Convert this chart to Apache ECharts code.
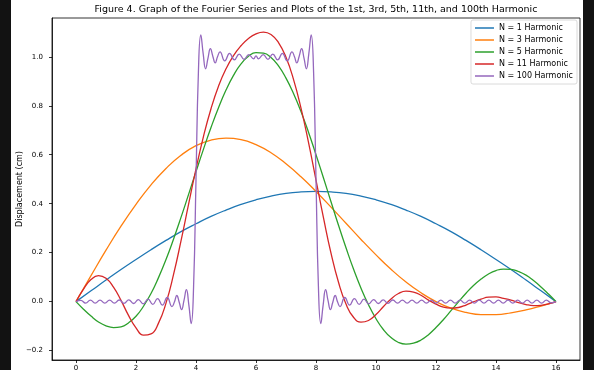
<!DOCTYPE html>
<html><head><meta charset="utf-8">
<script src="https://cdn.jsdelivr.net/npm/echarts@6/dist/echarts.min.js"></script>
<style>
html,body{margin:0;padding:0;background:#121212;width:594px;height:370px;overflow:hidden}
#c{position:absolute;left:11px;top:0;width:572px;height:370px;background:#fff}
</style></head><body><div id="c"></div>
<script>
const titleText = 'Figure 4. Graph of the Fourier Series and Plots of the 1st, 3rd, 5th, 11th, and 100th Harmonic';
const yAxisTitle = 'Displacement (cm)';
const seriesNames = ['N = 1 Harmonic','N = 3 Harmonic','N = 5 Harmonic','N = 11 Harmonic','N = 100 Harmonic'];
const colors = ['#1f77b4','#ff7f0e','#2ca02c','#d62728','#9467bd'];
const xTicks = [0,2,4,6,8,10,12,14,16];
const yTicks = [-0.2,0,0.2,0.4,0.6,0.8,1.0];

const xs = [0,0.5,1,1.5,2,2.5,3,3.5,4,4.5,5,5.5,6,6.5,7,7.5,8,8.5,9,9.5,10,10.5,11,11.5,12,12.5,13,13.5,14,14.5,15,15.5,16];
const n1 = [0,.044,.088,.131,.172,.212,.250,.286,.318,.348,.374,.397,.416,.431,.442,.448,.450,.448,.442,.431,.416,.397,.374,.348,.318,.286,.250,.212,.172,.131,.088,.044,0];
const n3 = [0,.106,.210,.308,.397,.477,.544,.598,.637,.660,.668,.662,.641,.608,.563,.510,.450,.386,.320,.254,.191,.132,.080,.036,0,-.027,-.044,-.053,-.053,-.046,-.034,-.018,0];
const xsFine = [0,0.25,0.5,0.75,1,1.25,1.5,1.75,2,2.25,2.5,2.75,3,3.25,3.5,3.75,4,4.25,4.5,4.75,5,5.25,5.5,5.75,6,6.25,6.5,6.75,7,7.25,7.5,7.75,8,8.25,8.5,8.75,9,9.25,9.5,9.75,10,10.25,10.5,10.75,11,11.25,11.5,11.75,12,12.25,12.5,12.75,13,13.25,13.5,13.75,14,14.25,14.5,14.75,15,15.25,15.5,15.75,16];
const n5 = [0,-.031,-.059,-.083,-.099,-.106,-.103,-.087,-.060,-.019,.033,.098,.172,.255,.344,.437,.531,.623,.711,.792,.864,.924,.971,1.002,1.017,1.015,.997,.963,.913,.850,.776,.692,.600,.505,.408,.312,.220,.133,.055,-.013,-.070,-.115,-.147,-.167,-.174,-.170,-.157,-.135,-.106,-.073,-.037,-.001,.034,.066,.092,.113,.127,.133,.132,.123,.108,.086,.060,.031,0];
const n11 = [0,.051,.090,.106,.095,.059,.005,-.056,-.107,-.137,-.132,-.088,-.006,.110,.248,.396,.542,.675,.788,.880,.951,1.005,1.045,1.075,1.094,1.101,1.091,1.058,.998,.908,.790,.650,.496,.342,.198,.079,-.010,-.064,-.084,-.077,-.053,-.020,.011,.033,.043,.039,.026,.006,-.010,-.023,-.027,-.024,-.014,-.001,.010,.018,.019,.013,.006,-.004,-.012,-.016,-.015,-.009,0];
const n100 = [
 [0,0],[0.16,0.005],[0.32,-0.006],[0.48,0.006],[0.64,-0.006],[0.80,0.006],[0.96,-0.006],[1.12,0.006],[1.28,-0.006],
 [1.44,0.0065],[1.60,-0.007],[1.76,0.0072],[1.92,-0.0078],[2.08,0.0084],[2.24,-0.0092],[2.40,0.0101],[2.56,-0.0113],
 [2.72,0.0126],[2.88,-0.0144],[3.04,0.0168],[3.20,-0.0201],[3.28,-0.0016],[3.36,0.025],[3.44,-0.0025],[3.52,-0.0331],
 [3.60,0.005],[3.68,0.0486],[3.76,-0.012],[3.84,-0.0895],[3.92,0.064],[4.00,0.5],
 [4.08,0.936],[4.16,1.0895],[4.24,1.012],[4.32,0.951],[4.40,0.995],[4.48,1.033],[4.56,1.0025],[4.64,0.975],[4.72,1.0016],
 [4.80,1.0201],[4.96,0.9832],[5.12,1.0144],[5.28,0.9874],[5.44,1.0113],[5.60,0.9899],[5.76,1.0092],[5.92,0.9916],
 [6.00,1.004],[6.08,0.9916],[6.24,1.0092],[6.40,0.9899],[6.56,1.0113],[6.72,0.9874],[6.88,1.0144],[7.04,0.9832],
 [7.20,1.0201],[7.28,1.0016],[7.36,0.975],[7.44,1.0025],[7.52,1.033],[7.60,0.995],[7.68,0.951],[7.76,1.012],
 [7.84,1.0895],[7.92,0.936],[8.00,0.5],
 [8.08,0.064],[8.16,-0.0895],[8.24,-0.012],[8.32,0.0486],[8.40,0.005],[8.48,-0.0331],[8.56,-0.0025],[8.64,0.025],
 [8.72,-0.0016],[8.80,-0.0201],[8.96,0.0168],[9.12,-0.0144],[9.28,0.0126],[9.44,-0.0113],[9.60,0.0101],[9.76,-0.0092],
 [9.92,0.0084],[10.08,-0.0078],[10.24,0.0072],[10.40,-0.0068],[10.56,0.0065],[10.72,-0.006],[10.88,0.006],[11.04,-0.006],
 [11.20,0.006],[11.36,-0.006],[11.52,0.006],[11.68,-0.006],[11.84,0.006],[12.00,-0.006],[12.16,0.006],[12.32,-0.006],
 [12.48,0.006],[12.64,-0.006],[12.80,0.006],[12.96,-0.006],[13.12,0.006],[13.28,-0.006],[13.44,0.006],[13.60,-0.006],
 [13.76,0.006],[13.92,-0.006],[14.08,0.006],[14.24,-0.006],[14.40,0.006],[14.56,-0.006],[14.72,0.006],[14.88,-0.006],
 [15.04,0.006],[15.20,-0.006],[15.36,0.006],[15.52,-0.006],[15.68,0.006],[15.84,-0.005],[16.00,0]
];

const font = 'DejaVu Sans';
const pair = (xv, ys) => xv.map((x,i)=>[x,ys[i]]);
const seriesData = [pair(xs,n1),pair(xs,n3),pair(xsFine,n5),pair(xsFine,n11),n100];

const chart = echarts.init(document.getElementById('c'), null, {renderer:'canvas'});
chart.setOption({
  animation:false,
  backgroundColor:'#fff',
  color:colors,
  graphic:[
    {type:'text',x:305,y:10,style:{text:titleText,font:'9.5px "DejaVu Sans"',fill:'#000',textAlign:'center',textVerticalAlign:'middle'}},
    {type:'text',x:9,y:189,rotation:Math.PI/2,style:{text:yAxisTitle,font:'8px "DejaVu Sans"',fill:'#000',textAlign:'center',textVerticalAlign:'middle'}}
  ],
  grid:{left:41,right:3,top:18,bottom:10,show:true,borderColor:'#000',borderWidth:0.8,backgroundColor:'#fff',
        outerBoundsMode:'none',containLabel:false},
  legend:{
    orient:'vertical',right:6,top:20,
    data:seriesNames,
    icon:'rect',itemWidth:19,itemHeight:1.5,itemGap:2,
    padding:[3,4,3,4],
    backgroundColor:'rgba(255,255,255,0.8)',borderColor:'#d0d0d0',borderWidth:0.8,borderRadius:2,
    textStyle:{fontFamily:font,fontSize:8,color:'#000',lineHeight:10,padding:[0,0,0,0]}
  },
  xAxis:{
    type:'value',min:-0.8,max:16.8,
    axisLine:{show:true,onZero:false,lineStyle:{color:'#000',width:0.8}},
    axisTick:{show:true,length:3,inside:false,customValues:xTicks,lineStyle:{color:'#000',width:0.8}},
    axisLabel:{show:true,customValues:xTicks,margin:5,fontFamily:font,fontSize:7,color:'#000',formatter:v=>String(Math.round(v))},
    splitLine:{show:false}
  },
  yAxis:{
    type:'value',min:-0.2385,max:1.1585,
    axisLine:{show:true,onZero:false,lineStyle:{color:'#000',width:0.8}},
    axisTick:{show:true,length:3,inside:false,customValues:yTicks,lineStyle:{color:'#000',width:0.8}},
    axisLabel:{show:true,customValues:yTicks,margin:9,fontFamily:font,fontSize:7,color:'#000',
      formatter:v=>(v< -1e-9?'\u2212':'')+Math.abs(v).toFixed(1)},
    splitLine:{show:false}
  },
  series:seriesNames.map((name,i)=>({
    name,type:'line',data:seriesData[i],showSymbol:false,symbol:'none',smooth:0.5,smoothMonotone:'none',
    lineStyle:{width:1.3,color:colors[i]},itemStyle:{color:colors[i]},
    clip:true
  }))
});
</script></body></html>
